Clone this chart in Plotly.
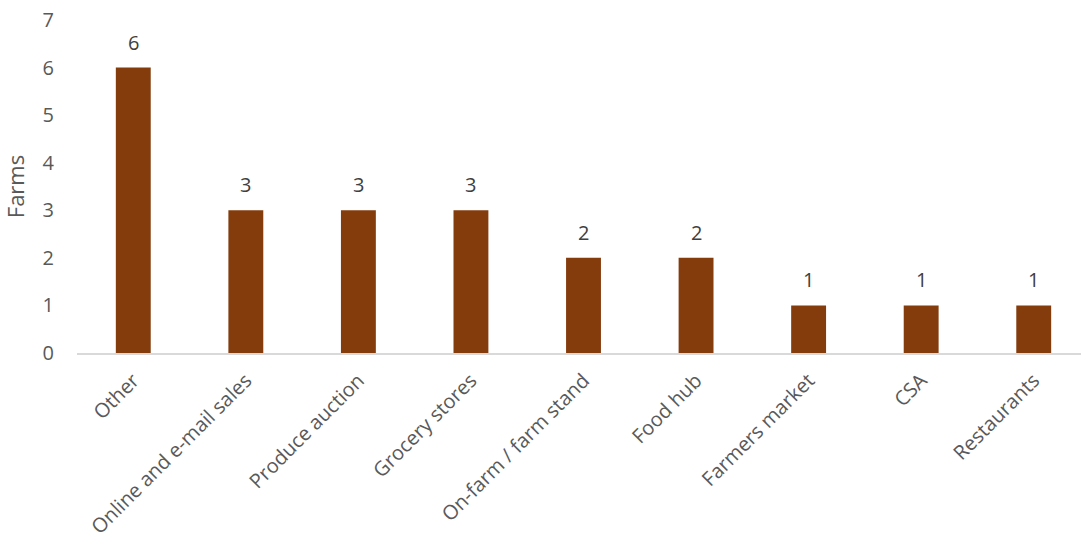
import plotly.graph_objects as go

categories = ["Other", "Online and e-mail sales", "Produce auction", "Grocery stores",
              "On-farm / farm stand", "Food hub", "Farmers market", "CSA", "Restaurants"]
farms = [6, 3, 3, 3, 2, 2, 1, 1, 1]
y_ticks = [0, 1, 2, 3, 4, 5, 6, 7]

BAR_COLOR = "#843C0C"
TEXT_COLOR = "#595959"
FONT = "Open Sans"

fig = go.Figure(
    go.Bar(
        x=list(range(len(categories))),
        y=farms,
        marker=dict(color=BAR_COLOR, line=dict(width=0)),
        width=0.31,
        hoverinfo="skip",
    )
)

# value labels above each bar
for i, v in enumerate(farms):
    fig.add_annotation(
        x=i, y=v, text=str(v), showarrow=False,
        yanchor="bottom", yshift=10,
        font=dict(family=FONT, size=20, color="#404040"),
    )

fig.update_layout(
    width=1081, height=542,
    margin=dict(l=77, r=0, t=20, b=189),
    paper_bgcolor="white", plot_bgcolor="white",
    showlegend=False,
    font=dict(family=FONT, size=20, color=TEXT_COLOR),
)

fig.update_xaxes(
    range=[-0.5, 8.42],
    tickmode="array",
    tickvals=list(range(len(categories))),
    ticktext=categories,
    tickangle=-45,
    automargin=False,
    showgrid=False, zeroline=False,
    showline=True, linecolor="#D9D9D9", linewidth=2,
    ticks="", ticklabelstandoff=6,
    tickfont=dict(family=FONT, size=20, color=TEXT_COLOR),
)

fig.update_yaxes(
    range=[0, 7],
    tickmode="array",
    tickvals=y_ticks,
    automargin=False,
    showgrid=False, zeroline=False, showline=False,
    ticks="", ticklabelstandoff=22,
    tickfont=dict(family=FONT, size=20, color=TEXT_COLOR),
    title=dict(text="Farms", font=dict(family=FONT, size=22, color=TEXT_COLOR), standoff=12),
)

fig.write_html("out.html")
